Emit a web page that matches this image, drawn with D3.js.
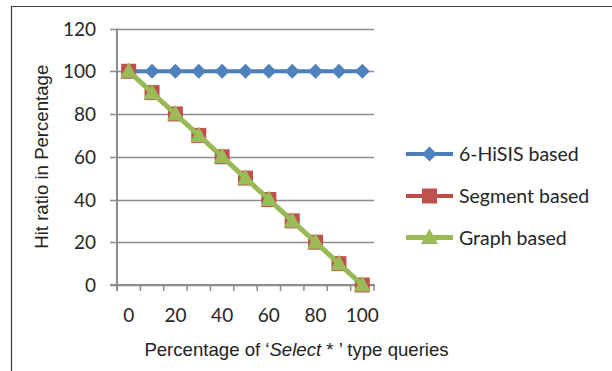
<!DOCTYPE html>
<html>
<head>
<meta charset="utf-8">
<script src="https://cdn.jsdelivr.net/npm/d3@7"></script>
<style>
  body { margin: 0; background: #fff; }
  svg { display: block; }
</style>
</head>
<body>
<script>
// data
var categories = [0, 10, 20, 30, 40, 50, 60, 70, 80, 90, 100];
var hisis = [100, 100, 100, 100, 100, 100, 100, 100, 100, 100, 100];
var segment = [100, 90, 80, 70, 60, 50, 40, 30, 20, 10, 0];
var graph = [100, 90, 80, 70, 60, 50, 40, 30, 20, 10, 0];
var yTicks = [0, 20, 40, 60, 80, 100, 120];
var xLabels = [0, 20, 40, 60, 80, 100];
var seriesNames = ["6-HiSIS based", "Segment based", "Graph based"];

var W = 612, H = 371;
var plot = {left: 117, right: 374, top: 28.5, bottom: 285};

var svg = d3.select("body").append("svg")
    .attr("width", W)
    .attr("height", H);

// outer frame (only top and left edges visible)
svg.append("path")
    .attr("d", "M11.5," + H + "V6.5H" + W)
    .attr("fill", "none")
    .attr("stroke", "#3a3a3a")
    .attr("stroke-width", 1.2);

var xScale = d3.scaleBand()
    .domain(categories)
    .range([plot.left, plot.right])
    .paddingInner(0).paddingOuter(0);

var yScale = d3.scaleLinear()
    .domain([0, 120])
    .range([plot.bottom, plot.top]);

var fontTick = "Lato, 'Open Sans', sans-serif";
var fontTitle = "'Liberation Sans', Arial, sans-serif";

// gridlines
svg.append("g").selectAll("line")
    .data(yTicks)
    .enter().append("line")
    .attr("x1", plot.left - 7)
    .attr("x2", plot.right)
    .attr("y1", function(d) { return Math.round(yScale(d)) + 0.5; })
    .attr("y2", function(d) { return Math.round(yScale(d)) + 0.5; })
    .attr("stroke", "#8c8c8c")
    .attr("stroke-width", 1.3);

// y axis line
svg.append("line")
    .attr("x1", plot.left).attr("x2", plot.left)
    .attr("y1", plot.top).attr("y2", plot.bottom + 6)
    .attr("stroke", "#8c8c8c")
    .attr("stroke-width", 2);

// x axis line + ticks between categories
svg.append("line")
    .attr("x1", plot.left - 7).attr("x2", plot.right + 1)
    .attr("y1", plot.bottom).attr("y2", plot.bottom)
    .attr("stroke", "#8c8c8c")
    .attr("stroke-width", 2);

var tickPos = categories.map(function(c) { return xScale(c); }).concat([plot.right]);
svg.append("g").selectAll("line")
    .data(tickPos)
    .enter().append("line")
    .attr("x1", function(d) { return d; })
    .attr("x2", function(d) { return d; })
    .attr("y1", plot.bottom)
    .attr("y2", plot.bottom + 6)
    .attr("stroke", "#8c8c8c")
    .attr("stroke-width", 1.5);

// y tick labels
svg.append("g").selectAll("text")
    .data(yTicks)
    .enter().append("text")
    .attr("x", 96)
    .attr("y", function(d) { return yScale(d) + 7; })
    .attr("text-anchor", "end")
    .style("font-family", fontTick)
    .style("font-size", "19px")
    .attr("fill", "#262626")
    .text(function(d) { return d; });

// x tick labels
svg.append("g").selectAll("text")
    .data(xLabels)
    .enter().append("text")
    .attr("x", function(d) { return xScale(d) + xScale.bandwidth() / 2; })
    .attr("y", 322)
    .attr("text-anchor", "middle")
    .style("font-family", fontTick)
    .style("font-size", "19px")
    .attr("fill", "#262626")
    .text(function(d) { return d; });

// axis titles
svg.append("text")
    .attr("transform", "translate(48," + ((plot.top + plot.bottom) / 2) + ") rotate(-90)")
    .attr("text-anchor", "middle")
    .style("font-family", fontTitle)
    .style("font-size", "18.6px")
    .attr("fill", "#222")
    .text("Hit ratio in Percentage");

var xt = svg.append("text")
    .attr("x", 296.5)
    .attr("y", 356)
    .attr("text-anchor", "middle")
    .style("font-family", fontTitle)
    .style("font-size", "18.6px")
    .attr("fill", "#222");
xt.append("tspan").text("Percentage of \u2018");
xt.append("tspan").style("font-style", "italic").text("Select");
xt.append("tspan").text(" * \u2019 type queries");

// series
var series = [
    {name: seriesNames[0], values: hisis, line: "#4a7ebb", fill: "#4f81bd", shape: "diamond", width: 4},
    {name: seriesNames[1], values: segment, line: "#be4b48", fill: "#c0504d", shape: "square", width: 4},
    {name: seriesNames[2], values: graph, line: "#98b954", fill: "#9bbb59", shape: "triangle", width: 5}
];

function markerPath(shape, x, y) {
    if (shape == "diamond") return "M" + x + "," + (y - 7.5) + "L" + (x + 7.5) + "," + y + "L" + x + "," + (y + 7.5) + "L" + (x - 7.5) + "," + y + "Z";
    if (shape == "square") return "M" + (x - 7.5) + "," + (y - 7.5) + "h15v15h-15Z";
    return "M" + x + "," + (y - 9) + "L" + (x + 8.5) + "," + (y + 6.5) + "L" + (x - 8.5) + "," + (y + 6.5) + "Z";
}

var cx = function(i) { return xScale(categories[i]) + xScale.bandwidth() / 2; };

series.forEach(function(s) {
    var line = d3.line()
        .x(function(d, i) { return cx(i); })
        .y(function(d) { return yScale(d); });
    var g = svg.append("g");
    g.append("path")
        .datum(s.values)
        .attr("d", line)
        .attr("fill", "none")
        .attr("stroke", s.line)
        .attr("stroke-width", s.width)
        .attr("stroke-linejoin", "round");
    g.selectAll("path.m")
        .data(s.values)
        .enter().append("path")
        .attr("class", "m")
        .attr("d", function(d, i) { return markerPath(s.shape, cx(i), yScale(d)); })
        .attr("fill", s.fill);
});

// legend
var legendY = [154, 196, 237.5];
series.forEach(function(s, i) {
    var y = legendY[i];
    svg.append("line")
        .attr("x1", 406).attr("x2", 453)
        .attr("y1", y).attr("y2", y)
        .attr("stroke", s.line)
        .attr("stroke-width", s.width);
    svg.append("path")
        .attr("d", markerPath(s.shape, 429.5, y))
        .attr("fill", s.fill);
    svg.append("text")
        .attr("x", 459)
        .attr("y", y + 7)
        .style("font-family", fontTick)
        .style("font-size", "19.5px")
        .attr("fill", "#262626")
        .text(s.name);
});
</script>
</body>
</html>
